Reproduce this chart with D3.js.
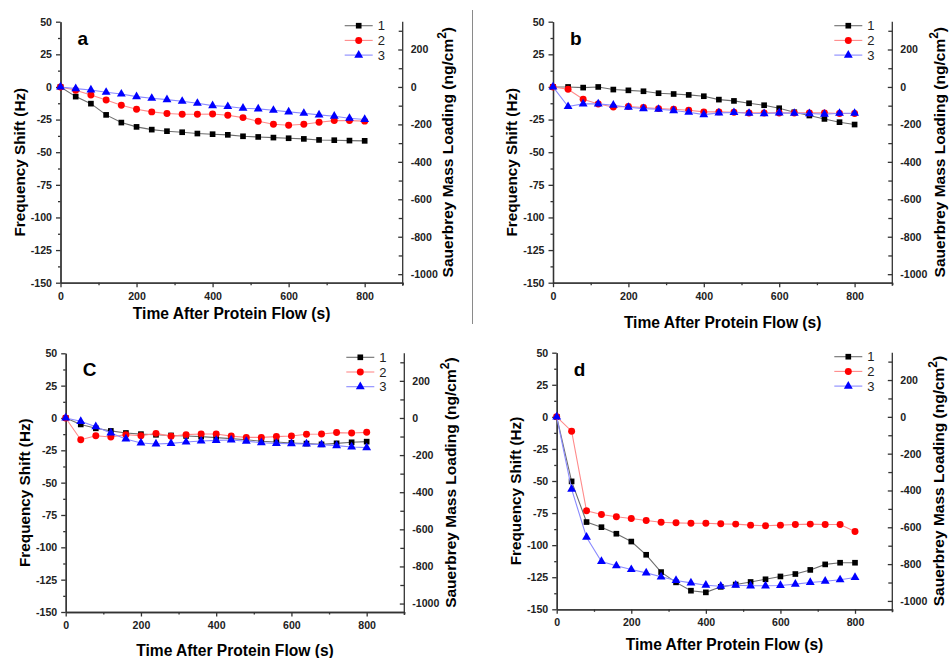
<!DOCTYPE html>
<html>
<head>
<meta charset="utf-8">
<script src="https://cdn.jsdelivr.net/npm/d3@7/dist/d3.min.js"></script>
<style>
  body { margin: 0; background: #fff; }
  svg { display: block; font-family: "Liberation Sans", Arial, sans-serif; }
  .tick text { font-weight: bold; font-size: 10.6px; fill: #222; }
  .domain, .tick line { stroke: #333; stroke-width: 1.3; }
</style>
</head>
<body>
<svg id="chart" width="950" height="658"></svg>
<script>
// time points (s)
const times = [0, 40, 80, 120, 160, 200, 240, 280, 320, 360, 400, 440, 480, 520, 560, 600, 640, 680, 720, 760, 800];

// frequency shift (Hz)
const aS1 = [0, -7.4, -12.8, -21.4, -27.3, -30.6, -32.7, -33.9, -34.7, -35.7, -36.2, -36.7, -37.8, -38.3, -38.8, -39.3, -39.8, -40.6, -40.8, -41.1, -41.3];
const aS2 = [0, -2.5, -6.1, -10, -14, -17.1, -19.1, -20.4, -20.9, -20.9, -20.7, -21.7, -23.5, -26.3, -28.6, -29.3, -28.6, -27, -25.8, -25.8, -26.2];
const aS3 = [0, -1.3, -2.3, -4.1, -5.4, -7.4, -8.7, -9.7, -11, -12.5, -14.3, -15, -16.3, -16.8, -17.9, -19.1, -20.2, -21.4, -22.4, -24, -24.9];

const bS1 = [0, 0, -0.5, 0, -2, -2.6, -3.3, -4.8, -5.4, -6.1, -7.1, -9.7, -10.7, -12.5, -14, -16.3, -19.4, -21.9, -24.5, -27, -28.8];
const bS2 = [0, -1.8, -9.4, -13, -15.3, -15, -15.8, -16.6, -17.1, -17.9, -19.1, -19.1, -19.4, -19.9, -19.9, -19.9, -19.9, -19.9, -19.9, -20.4, -20.4];
const bS3 = [0, -15, -13, -13, -14, -15.6, -16.6, -17.1, -18.1, -19.4, -21.2, -19.9, -19.6, -20.2, -20.4, -19.9, -20.2, -20.4, -20.9, -20.2, -20.2];

const cS1 = [0, -5, -8, -10, -11.6, -12.5, -13, -13.5, -13.9, -14.4, -15.2, -16, -16.8, -18, -18.6, -19.3, -19.8, -20.4, -19.6, -18.8, -18.3];
const cS2 = [0, -16.8, -13.7, -14.7, -12.9, -13.7, -11.9, -14.2, -12.9, -12.4, -12.4, -14, -15, -15, -14.4, -13.9, -12.6, -12.4, -11.3, -11.6, -11.1];
const cS3 = [0, -2.6, -6.7, -11.6, -16.2, -19.3, -20.1, -19.6, -18.6, -17.8, -17.3, -17, -18, -19.1, -19.6, -19.8, -20.1, -20.6, -21.4, -22.4, -22.9];

const dS1 = [0, -50.3, -82, -86, -91.1, -97.2, -107.5, -121, -129, -135.5, -136.8, -132.5, -130.7, -128.7, -126.6, -124.4, -122.5, -119.3, -115, -113.7, -113.7];
const dS2 = [0, -11.2, -73.2, -76.1, -77.9, -79.2, -80.8, -82.1, -82.6, -82.9, -82.9, -83.4, -83.6, -84.4, -84.9, -84.4, -83.9, -83.6, -83.9, -83.9, -89.4];
const dS3 = [0, -56.4, -93.8, -112.7, -116.1, -119, -121.6, -124.7, -127.5, -129.4, -131.2, -132, -131.2, -131.7, -131.7, -131.4, -130.4, -129.1, -128.1, -127, -125.2];

const seriesNames = ["1", "2", "3"];
const xTicks = [0, 200, 400, 600, 800];
const xMinor = [100, 300, 500, 700, 900];
const yTicks = [50, 25, 0, -25, -50, -75, -100, -125, -150];
const yMinor = [37.5, 12.5, -12.5, -37.5, -62.5, -87.5, -112.5, -137.5];
const rTicks = [200, 0, -200, -400, -600, -800, -1000];
const rMinor = [300, 100, -100, -300, -500, -700, -900];
const ngPerHz = 6.97; // Sauerbrey conversion used by the right axis

const markerColors = ["#000000", "#ff0000", "#0000ff"];
const lineColors = ["#6e6e6e", "#ff8a8a", "#8a8aff"];
const markerTypes = [d3.symbolSquare, d3.symbolCircle, d3.symbolTriangle];
const markerSizes = [32, 38, 34];

const panels = [
  { label: "a", data: [aS1, aS2, aS3], x0: 60.5, x1: 402.7, yTop: 21.7, yBot: 282.7, xTitleDy: 36, rTitleX: 452.5 },
  { label: "b", data: [bS1, bS2, bS3], x0: 553, x1: 892.3, yTop: 21.7, yBot: 282.7, xTitleDy: 45, rTitleX: 945 },
  { label: "C", data: [cS1, cS2, cS3], x0: 65.7, x1: 404.3, yTop: 353.3, yBot: 612, xTitleDy: 44, rTitleX: 455.5 },
  { label: "d", data: [dS1, dS2, dS3], x0: 556.7, x1: 892.3, yTop: 352.7, yBot: 609.3, xTitleDy: 41, rTitleX: 944 }
];

const fmt = d => String(d);
const svg = d3.select("#chart");

// thin separator to the right of panel a
svg.append("line")
  .attr("x1", 472.5).attr("x2", 472.5)
  .attr("y1", 10).attr("y2", 324)
  .attr("stroke", "#8a8a8a").attr("stroke-width", 1);

panels.forEach(p => {
  const x = d3.scaleLinear().domain([0, 900]).range([p.x0, p.x1]);
  const y = d3.scaleLinear().domain([-150, 50]).range([p.yBot, p.yTop]);
  const yR = d3.scaleLinear().domain([-150 * ngPerHz, 50 * ngPerHz]).range([p.yBot, p.yTop]);
  const g = svg.append("g");

  // bottom axis
  g.append("g").attr("transform", `translate(0,${p.yBot})`)
    .call(d3.axisBottom(x).tickValues(xMinor).tickSize(2.5).tickSizeOuter(0).tickFormat(""));
  g.append("g").attr("transform", `translate(0,${p.yBot})`)
    .call(d3.axisBottom(x).tickValues(xTicks).tickSize(4.5).tickSizeOuter(0).tickPadding(5).tickFormat(fmt));

  // left axis
  g.append("g").attr("transform", `translate(${p.x0},0)`)
    .call(d3.axisLeft(y).tickValues(yMinor).tickSize(2.5).tickSizeOuter(0).tickFormat(""));
  g.append("g").attr("transform", `translate(${p.x0},0)`)
    .call(d3.axisLeft(y).tickValues(yTicks).tickSize(4.5).tickSizeOuter(0).tickPadding(4).tickFormat(fmt));

  // right axis (ticks pointing inward)
  const rMinorAx = g.append("g").attr("transform", `translate(${p.x1},0)`)
    .call(d3.axisRight(yR).tickValues(rMinor).tickSize(-4).tickSizeOuter(0).tickFormat(""));
  const rAx = g.append("g").attr("transform", `translate(${p.x1},0)`)
    .call(d3.axisRight(yR).tickValues(rTicks).tickSize(-4.5).tickSizeOuter(0).tickFormat(fmt));
  rAx.selectAll(".tick text").attr("x", 8);
  rAx.select(".domain").attr("d", `M0,${p.yTop}V${p.yBot + 3}`);
  rMinorAx.select(".domain").remove();

  // series lines and markers
  const line = d3.line().x((d, i) => x(times[i])).y(d => y(d));
  p.data.forEach((vals, k) => {
    g.append("path")
      .attr("d", line(vals))
      .attr("fill", "none")
      .attr("stroke", lineColors[k])
      .attr("stroke-width", 1.1);
    g.selectAll(null)
      .data(vals)
      .join("path")
      .attr("transform", (d, i) => `translate(${x(times[i])},${y(d)})`)
      .attr("d", d3.symbol().type(markerTypes[k]).size(markerSizes[k]))
      .attr("fill", markerColors[k]);
  });

  // legend
  seriesNames.forEach((name, k) => {
    const ly = p.yTop + 4 + k * 14.7;
    g.append("line")
      .attr("x1", p.x1 - 58).attr("x2", p.x1 - 30)
      .attr("y1", ly).attr("y2", ly)
      .attr("stroke", lineColors[k]).attr("stroke-width", 1.1);
    g.append("path")
      .attr("transform", `translate(${p.x1 - 44},${ly})`)
      .attr("d", d3.symbol().type(markerTypes[k]).size(markerSizes[k]))
      .attr("fill", markerColors[k]);
    g.append("text")
      .attr("x", p.x1 - 25).attr("y", ly + 4.5)
      .attr("font-size", 13).attr("fill", "#222")
      .text(name);
  });

  // panel letter
  g.append("text")
    .attr("x", p.x0 + 17).attr("y", p.yTop + 23)
    .attr("font-size", 19).attr("font-weight", "bold")
    .text(p.label);

  // axis titles
  g.append("text")
    .attr("x", (p.x0 + p.x1) / 2).attr("y", p.yBot + p.xTitleDy)
    .attr("text-anchor", "middle")
    .attr("font-size", 15.6).attr("font-weight", "bold")
    .text("Time After Protein Flow (s)");

  g.append("text")
    .attr("transform", `translate(${p.x0 - 36},${(p.yTop + p.yBot) / 2 + 10}) rotate(-90)`)
    .attr("text-anchor", "middle")
    .attr("font-size", 15.3).attr("font-weight", "bold")
    .text("Frequency Shift (Hz)");

  const rt = g.append("text")
    .attr("transform", `translate(${p.rTitleX},${(p.yTop + p.yBot) / 2}) rotate(-90)`)
    .attr("text-anchor", "middle")
    .attr("font-size", 15.5).attr("font-weight", "bold");
  rt.append("tspan").text("Sauerbrey Mass Loading (ng/cm");
  rt.append("tspan").attr("font-size", 12).attr("dy", -7).text("2");
  rt.append("tspan").attr("dy", 7).text(")");
});
</script>
</body>
</html>
